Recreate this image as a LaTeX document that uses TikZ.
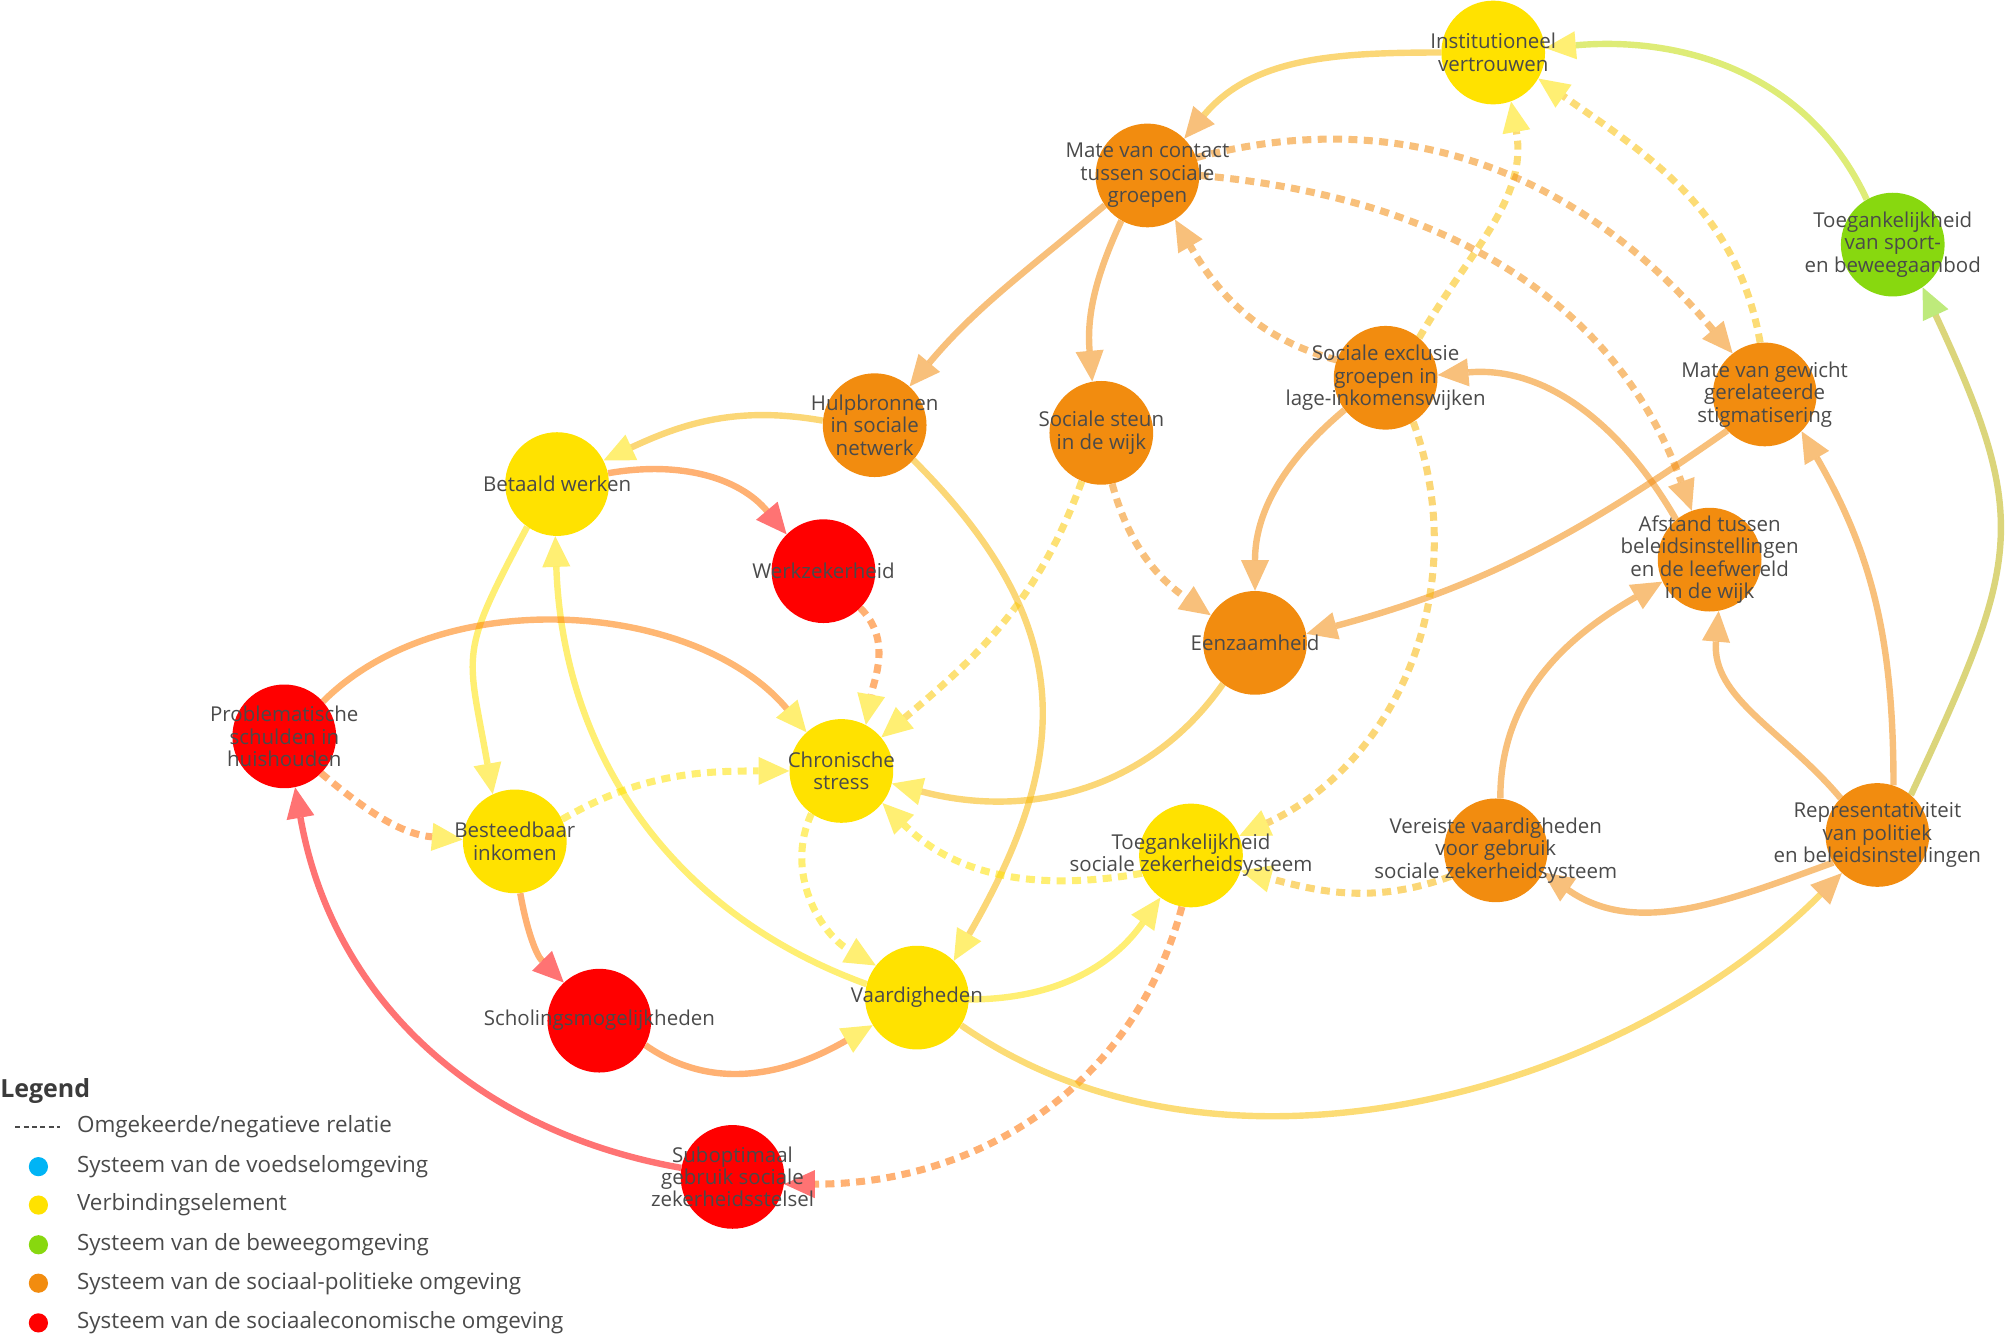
\documentclass[tikz,border=0pt]{standalone}
\usepackage{fontspec}
\setmainfont{Open Sans}
\usetikzlibrary{arrows.meta}
\pgfdeclarelayer{bg}
\pgfsetlayers{bg,main}
\definecolor{cyel}{HTML}{FFE200}
\definecolor{corg}{HTML}{F28C0F}
\definecolor{cred}{HTML}{FF0000}
\definecolor{cgrn}{HTML}{88D80F}
\definecolor{cblu}{HTML}{00B4F5}
\definecolor{ctxt}{HTML}{4A4A4A}
\tikzset{
  nd/.style={circle, minimum size=81pt, inner sep=0pt, draw=none},
  ny/.style={nd, fill=cyel},
  no/.style={nd, fill=corg},
  nr/.style={nd, fill=cred},
  ng/.style={nd, fill=cgrn},
  lab/.style={align=center, text=ctxt, font=\fontsize{16}{17.5}\selectfont, inner sep=0pt},
  legt/.style={anchor=west, text=ctxt, font=\fontsize{17.5}{19}\selectfont, inner sep=0pt},
  ed/.style={line width=5pt, opacity=0.55},
  neg/.style={ed, line width=5.5pt, dash pattern=on 7pt off 5pt},
  tipto/.style={-{Triangle[length=24pt,width=22pt,line width=0pt,color=#1]}},
}
\begin{document}
\begin{tikzpicture}[x=1pt,y=1pt]
\useasboundingbox (0,0) rectangle (1568,-1045);
% nodes
\node[ny] (inst) at (1166,-41) {};
\node[no] (mvc) at (896,-137) {};
\node[ng] (tsb) at (1478,-191) {};
\node[no] (hulp) at (683,-332) {};
\node[no] (ss) at (860,-338) {};
\node[no] (se) at (1082,-295) {};
\node[no] (mvg) at (1378,-308) {};
\node[ny] (bw) at (435,-378) {};
\node[nr] (wz) at (643,-446) {};
\node[no] (afs) at (1335,-437) {};
\node[no] (eenz) at (980,-502) {};
\node[nr] (ps) at (222,-575) {};
\node[ny] (cs) at (657,-602) {};
\node[ny] (bi) at (402,-657) {};
\node[ny] (tsz) at (930,-668) {};
\node[no] (vv) at (1168,-664) {};
\node[no] (rep) at (1466,-652) {};
\node[ny] (vaard) at (716,-779) {};
\node[nr] (sm) at (468,-797) {};
\node[nr] (sg) at (572,-919) {};
% labels
\node[lab] (instl) at (inst) {Institutioneel\\vertrouwen};
\node[lab] (mvcl) at (mvc) {Mate van contact\\tussen sociale\\groepen};
\node[lab] (tsbl) at (tsb) {Toegankelijkheid\\van sport-\\en beweegaanbod};
\node[lab] (hulpl) at (hulp) {Hulpbronnen\\in sociale\\netwerk};
\node[lab] (ssl) at (ss) {Sociale steun\\in de wijk};
\node[lab] (sel) at (se) {Sociale exclusie\\groepen in\\lage-inkomenswijken};
\node[lab] (mvgl) at (mvg) {Mate van gewicht\\gerelateerde\\stigmatisering};
\node[lab] (bwl) at (bw) {Betaald werken};
\node[lab] (wzl) at (wz) {Werkzekerheid};
\node[lab] (afsl) at (afs) {Afstand tussen\\beleidsinstellingen\\en de leefwereld\\in de wijk};
\node[lab] (eenzl) at (eenz) {Eenzaamheid};
\node[lab] (psl) at (ps) {Problematische\\schulden in\\huishouden};
\node[lab] (csl) at (cs) {Chronische\\stress};
\node[lab] (bil) at (bi) {Besteedbaar\\inkomen};
\node[lab] (tszl) at (tsz) {Toegankelijkheid\\sociale zekerheidsysteem};
\node[lab] (vvl) at (vv) {Vereiste vaardigheden\\voor gebruik\\sociale zekerheidsysteem};
\node[lab] (repl) at (rep) {Representativiteit\\van politiek\\en beleidsinstellingen};
\node[lab] (vaardl) at (vaard) {Vaardigheden};
\node[lab] (sml) at (sm) {Scholingsmogelijkheden};
\node[lab] (sgl) at (sg) {Suboptimaal\\gebruik sociale\\zekerheidsstelsel};
% edges
\begin{pgfonlayer}{bg}
\draw[ed, draw=cyel!50!corg, tipto=corg] (inst.180) to[out=180,in=50] (mvc.45);
\draw[ed, draw=cgrn!50!cyel, tipto=cyel] (tsb.120) to[out=115,in=5] (inst.5);
\draw[ed, draw=corg!50!cgrn, tipto=cgrn] (rep.50) to[out=65,in=-65,looseness=1.3] (tsb.-55);
\draw[neg, draw=corg!40!cyel, tipto=cyel] (mvg.95) to[out=100,in=-35] (inst.-30);
\draw[neg, draw=corg!40!cyel, tipto=cyel] (se.50) to[out=60,in=-80] (inst.-70);
\draw[neg, draw=corg, tipto=corg] (mvc.20) to[out=15,in=130] (mvg.128);
\draw[neg, draw=corg, tipto=corg] (mvc.0) to[out=-5,in=110] (afs.110);
\draw[neg, draw=corg, tipto=corg] (se.160) to[out=165,in=-60] (mvc.-58);
\draw[ed, draw=corg, tipto=corg] (mvc.215) to[out=220,in=50] (hulp.48);
\draw[ed, draw=corg, tipto=corg] (mvc.240) to[out=245,in=95] (ss.100);
\draw[ed, draw=corg!50!cyel, tipto=cyel] (hulp.175) to[out=170,in=25] (bw.27);
\draw[ed, draw=corg!50!cyel, tipto=cyel] (hulp.-42) to[out=-45,in=60,looseness=1.2] (vaard.45);
\draw[ed, draw=cyel!50!cred, tipto=cred] (bw.12) to[out=10,in=130] (wz.135);
\draw[ed, draw=cyel, tipto=cyel] (bw.235) to[out=242,in=100,looseness=1.4] (bi.115);
\draw[ed, draw=cyel, tipto=cyel] (vaard.165) to[out=160,in=-88] (bw.-92);
\draw[ed, draw=cred!45!cyel, tipto=cyel] (ps.42) to[out=45,in=130,looseness=0.9] (cs.132);
\draw[neg, draw=cred!50!cyel, tipto=cyel] (ps.-45) to[out=-40,in=175] (bi.178);
\draw[ed, draw=cred, tipto=cred] (sg.170) to[out=170,in=-80] (ps.-78);
\draw[neg, draw=cyel, tipto=cyel] (bi.25) to[out=30,in=180] (cs.180);
\draw[ed, draw=cyel!50!cred, tipto=cred] (bi.-84) to[out=-80,in=135] (sm.133);
\draw[ed, draw=cred!50!cyel, tipto=cyel] (sm.-28) to[out=-35,in=210] (vaard.212);
\draw[neg, draw=cred!50!cyel, tipto=cyel] (wz.-45) to[out=-45,in=80] (cs.62);
\draw[neg, draw=corg!30!cyel, tipto=cyel] (ss.-112) to[out=-110,in=40] (cs.40);
\draw[neg, draw=corg, tipto=corg] (ss.-78) to[out=-75,in=145] (eenz.148);
\draw[ed, draw=corg!50!cyel, tipto=cyel] (eenz.232) to[out=235,in=-15] (cs.-14);
\draw[ed, draw=corg, tipto=corg] (se.218) to[out=220,in=90] (eenz.90);
\draw[ed, draw=corg, tipto=corg] (mvg.224) to[out=215,in=15] (eenz.10);
\draw[ed, draw=corg, tipto=corg] (afs.130) to[out=120,in=5] (se.3);
\draw[neg, draw=corg!50!cyel, tipto=cyel] (se.-58) to[out=-70,in=25] (tsz.22);
\draw[neg, draw=cyel, tipto=cyel] (cs.235) to[out=245,in=150] (vaard.142);
\draw[neg, draw=cyel, tipto=cyel] (tsz.200) to[out=190,in=-45] (cs.-38);
\draw[neg, draw=corg!50!cyel, tipto=cyel] (vv.210) to[out=200,in=-15] (tsz.-17);
\draw[ed, draw=cyel, tipto=cyel] (vaard.-2) to[out=0,in=235] (tsz.234);
\draw[neg, draw=cyel!50!cred, tipto=cred] (tsz.-100) to[out=-105,in=0] (sg.-8);
\draw[ed, draw=cyel!60!corg, tipto=corg] (vaard.-32) to[out=-35,in=225,looseness=0.9] (rep.227);
\draw[ed, draw=corg, tipto=corg] (rep.212) to[out=200,in=-35] (vv.-25);
\draw[ed, draw=corg, tipto=corg] (vv.85) to[out=90,in=210] (afs.205);
\draw[ed, draw=corg, tipto=corg] (rep.135) to[out=130,in=-95] (afs.-80);
\draw[ed, draw=corg, tipto=corg] (rep.72) to[out=90,in=-60] (mvg.-45);
\end{pgfonlayer}
% legend
\node[anchor=west, text=ctxt!80!black, font=\bfseries\fontsize{19.5}{21}\selectfont, inner sep=0pt] (legh) at (0,-852) {Legend};
\draw[ctxt, line width=1.5pt, dash pattern=on 4pt off 2.5pt] (12,-880) -- (47,-880);
\node[legt] (l0) at (60,-880) {Omgekeerde/negatieve relatie};
\fill[cblu] (30,-911) circle (7.5);
\node[legt] (l1) at (60,-911) {Systeem van de voedselomgeving};
\fill[cyel] (30,-941) circle (7.5);
\node[legt] (l2) at (60,-941) {Verbindingselement};
\fill[cgrn] (30,-972) circle (7.5);
\node[legt] (l3) at (60,-972) {Systeem van de beweegomgeving};
\fill[corg] (30,-1002) circle (7.5);
\node[legt] (l4) at (60,-1002) {Systeem van de sociaal-politieke omgeving};
\fill[cred] (30,-1033) circle (7.5);
\node[legt] (l5) at (60,-1033) {Systeem van de sociaaleconomische omgeving};
\end{tikzpicture}
\end{document}
